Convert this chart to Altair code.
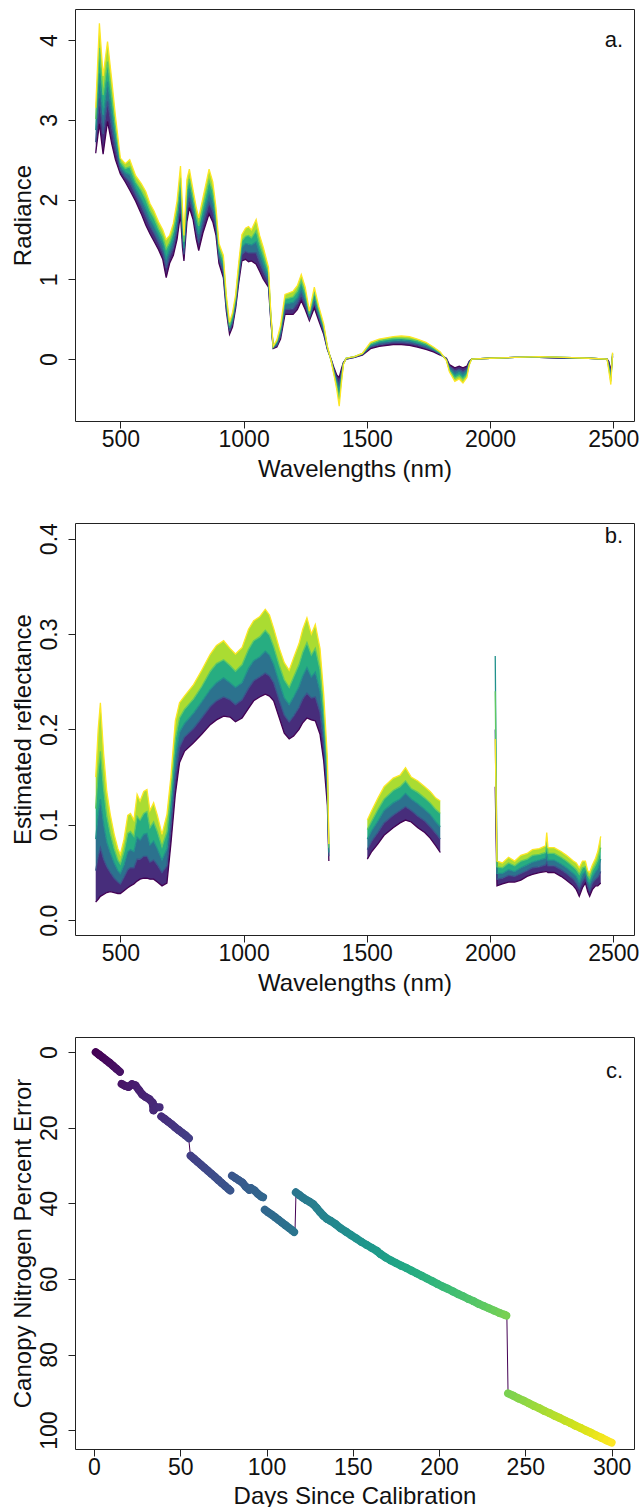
import altair as alt
import pandas as pd

FONT = "Liberation Sans"
LFS = 23   # tick labels
TFS = 24   # axis titles
W, H = 559, 412

# ---------------- panel a: radiance (five curves across the band, purple -> yellow)
WL_A = [
    400, 415, 430, 448, 465, 480, 500, 520, 538, 562,
    585, 603, 620, 636, 655, 672, 686, 700, 715, 730,
    744, 752, 758, 770, 780, 795, 808, 818, 835, 860,
    875, 888, 900, 918, 930, 943, 955, 968, 980, 993,
    1008, 1020, 1032, 1051, 1065, 1080, 1101, 1110, 1120, 1135,
    1150, 1168, 1201, 1218, 1234, 1250, 1267, 1287, 1305, 1325,
    1340, 1355, 1368, 1378, 1388, 1397, 1405, 1416, 1450, 1482,
    1515, 1550, 1607, 1640, 1673, 1705, 1740, 1770, 1798, 1823,
    1835, 1857, 1875, 1890, 1906, 1915, 1925, 2000, 2100, 2200,
    2300, 2400, 2475, 2482, 2490, 2497]
RAD_P0 = [
    2.58, 2.95, 2.57, 2.98, 2.70, 2.50, 2.32, 2.22, 2.12, 1.98,
    1.82, 1.68, 1.57, 1.48, 1.37, 1.25, 1.02, 1.20, 1.30, 1.50,
    1.82, 1.40, 1.23, 1.72, 1.90, 1.75, 1.50, 1.36, 1.58, 1.82,
    1.72, 1.55, 1.20, 1.02, 0.60, 0.31, 0.40, 0.64, 0.95, 1.23,
    1.25, 1.22, 1.23, 1.19, 1.10, 1.00, 0.90, 0.50, 0.13, 0.15,
    0.25, 0.56, 0.56, 0.62, 0.73, 0.62, 0.48, 0.64, 0.48, 0.31,
    0.12, 0.00, -0.12, -0.20, -0.23, -0.12, -0.04, 0.00, 0.02, 0.05,
    0.13, 0.16, 0.18, 0.18, 0.17, 0.15, 0.12, 0.09, 0.05, 0.01,
    -0.07, -0.11, -0.09, -0.11, -0.09, -0.03, 0.00, 0.01, 0.02, 0.02,
    0.01, 0.01, 0.00, -0.03, -0.15, 0.03]
RAD_P1 = [
    2.72, 3.27, 2.82, 3.23, 2.90, 2.64, 2.37, 2.28, 2.22, 2.06,
    1.92, 1.79, 1.67, 1.58, 1.46, 1.34, 1.14, 1.29, 1.40, 1.62,
    1.97, 1.52, 1.31, 1.85, 2.02, 1.84, 1.60, 1.46, 1.69, 1.96,
    1.85, 1.64, 1.26, 1.09, 0.65, 0.35, 0.45, 0.68, 1.01, 1.31,
    1.35, 1.33, 1.33, 1.33, 1.21, 1.10, 0.96, 0.53, 0.14, 0.17,
    0.29, 0.62, 0.63, 0.70, 0.81, 0.69, 0.51, 0.71, 0.53, 0.34,
    0.13, -0.01, -0.15, -0.25, -0.32, -0.17, -0.05, 0.00, 0.02, 0.06,
    0.15, 0.18, 0.21, 0.21, 0.20, 0.18, 0.14, 0.11, 0.06, 0.00,
    -0.09, -0.15, -0.13, -0.16, -0.13, -0.04, 0.00, 0.01, 0.02, 0.02,
    0.01, 0.01, 0.00, -0.06, -0.19, 0.04]
RAD_P2 = [
    2.87, 3.58, 3.06, 3.48, 3.10, 2.78, 2.42, 2.34, 2.31, 2.14,
    2.01, 1.89, 1.76, 1.67, 1.55, 1.44, 1.26, 1.38, 1.50, 1.74,
    2.12, 1.65, 1.39, 1.99, 2.14, 1.94, 1.70, 1.57, 1.80, 2.10,
    1.97, 1.73, 1.33, 1.16, 0.70, 0.39, 0.49, 0.73, 1.08, 1.40,
    1.45, 1.44, 1.43, 1.47, 1.33, 1.20, 1.03, 0.55, 0.15, 0.20,
    0.34, 0.69, 0.71, 0.77, 0.90, 0.76, 0.54, 0.77, 0.57, 0.38,
    0.14, -0.01, -0.17, -0.29, -0.41, -0.21, -0.06, 0.01, 0.03, 0.06,
    0.17, 0.21, 0.23, 0.24, 0.23, 0.20, 0.17, 0.12, 0.07, -0.01,
    -0.12, -0.20, -0.17, -0.21, -0.16, -0.06, 0.00, 0.01, 0.02, 0.03,
    0.02, 0.01, 0.00, -0.09, -0.24, 0.06]
RAD_P3 = [
    3.01, 3.90, 3.31, 3.73, 3.30, 2.91, 2.47, 2.39, 2.41, 2.22,
    2.11, 2.00, 1.86, 1.77, 1.63, 1.53, 1.38, 1.46, 1.60, 1.86,
    2.27, 1.77, 1.47, 2.12, 2.26, 2.03, 1.80, 1.67, 1.91, 2.24,
    2.10, 1.81, 1.39, 1.23, 0.75, 0.42, 0.54, 0.77, 1.14, 1.48,
    1.54, 1.55, 1.52, 1.61, 1.44, 1.30, 1.09, 0.58, 0.15, 0.22,
    0.38, 0.75, 0.78, 0.85, 0.98, 0.83, 0.57, 0.84, 0.62, 0.41,
    0.15, -0.02, -0.20, -0.34, -0.50, -0.26, -0.06, 0.01, 0.03, 0.07,
    0.19, 0.23, 0.26, 0.26, 0.25, 0.23, 0.19, 0.14, 0.08, -0.01,
    -0.14, -0.24, -0.21, -0.25, -0.20, -0.07, 0.00, 0.01, 0.02, 0.03,
    0.02, 0.01, 0.00, -0.12, -0.28, 0.07]
RAD_P4 = [
    3.15, 4.21, 3.55, 3.98, 3.50, 3.05, 2.52, 2.45, 2.50, 2.30,
    2.20, 2.10, 1.95, 1.86, 1.72, 1.62, 1.50, 1.55, 1.70, 1.98,
    2.42, 1.90, 1.55, 2.25, 2.38, 2.12, 1.90, 1.77, 2.02, 2.38,
    2.22, 1.90, 1.45, 1.30, 0.80, 0.46, 0.58, 0.81, 1.20, 1.56,
    1.64, 1.66, 1.62, 1.75, 1.55, 1.40, 1.15, 0.60, 0.16, 0.24,
    0.42, 0.81, 0.85, 0.92, 1.06, 0.90, 0.60, 0.90, 0.66, 0.44,
    0.16, -0.02, -0.22, -0.38, -0.59, -0.30, -0.07, 0.01, 0.03, 0.07,
    0.21, 0.25, 0.28, 0.29, 0.28, 0.25, 0.21, 0.15, 0.09, -0.02,
    -0.16, -0.28, -0.25, -0.30, -0.23, -0.08, 0.00, 0.01, 0.02, 0.03,
    0.02, 0.01, 0.00, -0.15, -0.32, 0.08]

# ---------------- panel b: estimated reflectance (three wavelength segments)
WL_B = [
    400, 410, 419, 432, 445, 459, 475, 490, 500, 515,
    530, 541, 555, 568, 580, 595, 608, 620, 635, 650,
    669, 689, 705, 723, 740, 760, 797, 830, 865, 890,
    919, 945, 967, 994, 1020, 1041, 1065, 1088, 1105, 1122,
    1145, 1165, 1185, 1203, 1225, 1240, 1257, 1275, 1291, 1310,
    1325, 1340, 1346,
    1502, 1520, 1545, 1570, 1607, 1635, 1657, 1680, 1707, 1735, 1757, 1780, 1798,
    2021, 2028, 2050, 2075, 2100, 2125, 2150, 2172, 2200, 2225,
    2230, 2235, 2260, 2288, 2310, 2338, 2350, 2362, 2375, 2387,
    2396, 2404, 2415, 2428, 2437, 2449]
SEG_B = [1] * 53 + [2] * 13 + [3] * 26
REF_P0 = [
    .019, .022, .025, .027, .029, .030, .029, .028, .028, .031,
    .034, .036, .038, .041, .043, .044, .044, .043, .043, .040,
    .036, .039, .080, .132, .165, .177, .186, .195, .205, .210,
    .214, .213, .208, .212, .222, .230, .234, .237, .235, .230,
    .212, .196, .190, .193, .200, .207, .212, .210, .209, .195,
    .167, .120, .062,
    .064, .072, .080, .089, .097, .102, .105, .103, .097, .092, .086, .078, .071,
    .140, .036, .038, .040, .040, .042, .046, .048, .050, .051,
    .051, .050, .050, .046, .042, .036, .032, .025, .034, .039,
    .030, .025, .032, .036, .036, .039]
REF_P1 = [
    .052, .067, .076, .064, .056, .050, .044, .040, .038, .045,
    .053, .055, .055, .064, .064, .067, .067, .061, .063, .058,
    .050, .057, .098, .151, .181, .192, .201, .212, .224, .230,
    .234, .231, .226, .231, .243, .251, .255, .259, .256, .249,
    .230, .215, .208, .214, .223, .232, .238, .233, .234, .218,
    .185, .133, .067,
    .074, .083, .092, .102, .110, .115, .119, .115, .109, .104, .098, .091, .085,
    .200, .043, .044, .047, .046, .049, .052, .055, .056, .058,
    .061, .057, .057, .053, .049, .043, .039, .033, .041, .045,
    .036, .031, .039, .043, .045, .051]
REF_P2 = [
    .085, .111, .127, .101, .082, .071, .060, .052, .049, .058,
    .072, .074, .072, .087, .084, .090, .091, .079, .083, .075,
    .063, .075, .115, .171, .197, .206, .217, .229, .242, .249,
    .254, .249, .244, .249, .264, .272, .276, .282, .278, .268,
    .249, .233, .226, .234, .245, .256, .265, .255, .260, .240,
    .202, .145, .071,
    .085, .094, .104, .115, .123, .127, .133, .127, .122, .116, .111, .103, .098,
    .277, .049, .049, .053, .051, .055, .058, .061, .063, .065,
    .072, .063, .063, .059, .055, .049, .046, .040, .048, .051,
    .041, .038, .045, .051, .054, .064]
REF_P3 = [
    .117, .156, .177, .138, .109, .091, .075, .063, .059, .072,
    .091, .093, .088, .109, .105, .112, .114, .097, .103, .093,
    .077, .093, .133, .190, .212, .221, .232, .245, .261, .269,
    .273, .267, .261, .268, .284, .293, .297, .304, .299, .287,
    .267, .252, .244, .255, .268, .281, .291, .278, .285, .263,
    .220, .158, .076,
    .095, .104, .116, .127, .136, .140, .146, .138, .134, .128, .123, .116, .112,
    .240, .056, .055, .060, .057, .062, .064, .068, .069, .071,
    .082, .070, .070, .066, .062, .056, .053, .048, .055, .056,
    .047, .044, .052, .058, .063, .076]
REF_P4 = [
    .150, .200, .228, .175, .135, .111, .090, .075, .069, .085,
    .110, .112, .105, .132, .125, .135, .137, .115, .123, .110,
    .090, .111, .150, .209, .228, .235, .247, .262, .279, .288,
    .293, .285, .279, .286, .305, .314, .318, .326, .320, .306,
    .285, .270, .262, .275, .290, .305, .317, .300, .310, .285,
    .237, .170, .080,
    .105, .115, .128, .140, .149, .152, .160, .150, .146, .140, .135, .128, .125,
    .190, .062, .060, .066, .062, .068, .070, .074, .075, .078,
    .092, .076, .076, .072, .068, .062, .060, .055, .062, .062,
    .052, .050, .058, .065, .072, .088]

# ---------------- panel c: canopy nitrogen percent error
DAYS_C = [
    1, 3, 5, 7, 9, 11, 13, 15,
    16, 18, 20, 22, 24, 26, 28, 30, 32, 34, 34.5, 35, 36, 38,
    39, 41, 43, 45, 47, 49, 51, 53, 55,
    56, 58, 60, 62, 64, 66, 68, 70, 72, 74, 76, 78, 79,
    80, 82, 84, 86, 88, 90, 91, 93, 95, 97, 98,
    99, 101, 103, 105, 107, 109, 111, 113, 115, 116,
    117, 119, 121, 123, 125, 127, 129, 131, 133, 135, 137, 140, 143, 146, 149,
    152, 155, 158, 161, 164, 166, 169, 172, 175, 178, 181, 184, 187, 190, 193,
    196, 199, 202, 205, 208, 211, 214, 217, 220, 223, 226, 229, 232, 235, 238, 239,
    240, 243, 246, 249, 252, 255, 258, 261, 264, 267, 270, 273, 276, 279, 282,
    285, 288, 291, 294, 297, 300]
ERR_C = [
    0.0, 0.7, 1.4, 2.1, 2.8, 3.6, 4.4, 5.2,
    8.4, 8.9, 9.2, 8.5, 8.8, 10.0, 11.2, 11.9, 12.4, 13.4, 15.4, 15.0, 14.6, 14.6,
    17.0, 17.7, 18.4, 19.1, 19.9, 20.6, 21.3, 22.0, 22.8,
    27.4, 28.2, 29.0, 29.8, 30.6, 31.4, 32.2, 33.0, 33.8, 34.6, 35.4, 36.2, 36.6,
    32.7, 33.3, 33.9, 34.5, 35.6, 36.4, 36.0, 36.6, 37.5, 38.2, 38.4,
    41.7, 42.4, 43.0, 43.7, 44.4, 45.1, 45.8, 46.5, 47.2, 47.6,
    37.1, 37.8, 38.5, 39.1, 39.6, 40.2, 41.2, 42.3, 43.3, 44.1, 44.6, 45.5, 46.6, 47.5, 48.4,
    49.3, 50.2, 51.0, 51.8, 52.6, 53.4, 54.3, 55.1, 55.8, 56.5, 57.1, 57.8, 58.5, 59.2, 59.9,
    60.6, 61.3, 62.0, 62.6, 63.3, 64.0, 64.6, 65.3, 65.9, 66.6, 67.2, 67.8, 68.4, 69.0, 69.5, 69.7,
    90.3, 90.9, 91.6, 92.2, 92.9, 93.6, 94.2, 94.9, 95.5, 96.2, 96.8, 97.5, 98.1, 98.8, 99.4,
    100.1, 100.7, 101.4, 102.0, 102.7, 103.3]
SEG_C = [1] * 8 + [2] * 14 + [3] * 9 + [4] * 13 + [5] * 11 + [6] * 10 + [7] * 46 + [8] * 21
JUMP_D0 = [54.9, 116.5, 239.3]
JUMP_D1 = [55.9, 117.1, 240.0]
JUMP_E0 = [22.8, 47.7, 69.7]
JUMP_E1 = [27.4, 37.1, 90.3]

LINE_IDS = ["s0", "s1", "s2", "s3", "s4"]
LINE_COLORS = ["#440154", "#3b528b", "#21918c", "#5ec962", "#fde725"]
BAND_IDS = ["b0", "b1", "b2", "b3"]
BAND_COLORS = ["#472d7b", "#2c728e", "#27ad81", "#aadc32"]


def x_axis(title, values, title_y=55):
    return alt.Axis(values=values, title=title, format="d", titleX=W / 2, titleY=title_y,
                    titleAlign="center", titleBaseline="alphabetic",
                    labelPadding=0.6, labelFlush=False)


def y_axis(title, values, fmt="d"):
    return alt.Axis(values=values, title=title, format=fmt, labelAngle=270, labelAlign="center",
                    labelBaseline="bottom", labelPadding=6.9, labelFlush=False,
                    titleAngle=270, titleX=-39.6, titleY=H / 2, titleAlign="center",
                    titleBaseline="bottom")


def tag_layer(tag, ty):
    return alt.Chart(pd.DataFrame({"t": [tag]})).mark_text(
        font=FONT, fontSize=22, align="right", baseline="alphabetic", color="#111"
    ).encode(x=alt.value(548), y=alt.value(ty), text="t:N")


def spectral(wl, seg, series, ydom, yvals, yfmt, ytitle, tag, ty):
    lines = []
    for k, s in enumerate(series):
        for w, g, v in zip(wl, seg, s):
            lines.append({"wl": w, "seg": g, "series": LINE_IDS[k], "v": v})
    bands = []
    for k in range(4):
        for w, g, lo, hi in zip(wl, seg, series[k], series[k + 1]):
            bands.append({"wl": w, "seg": g, "band": BAND_IDS[k], "lo": lo, "hi": hi})
    xs = alt.Scale(domain=[316, 2584], nice=False, zero=False)
    ys = alt.Scale(domain=ydom, nice=False, zero=False)
    xax = x_axis("Wavelengths (nm)", [500, 1000, 1500, 2000, 2500])
    yax = y_axis(ytitle, yvals, yfmt)
    band_ch = alt.Chart(pd.DataFrame(bands)).mark_area(opacity=1).encode(
        x=alt.X("wl:Q", scale=xs, axis=xax),
        y=alt.Y("lo:Q", scale=ys, axis=yax),
        y2="hi:Q",
        color=alt.Color("band:N", scale=alt.Scale(domain=BAND_IDS, range=BAND_COLORS), legend=None),
        detail="seg:N",
    )
    line_ch = alt.Chart(pd.DataFrame(lines)).mark_line(strokeWidth=1.3).encode(
        x=alt.X("wl:Q", scale=xs, axis=xax),
        y=alt.Y("v:Q", scale=ys, axis=yax),
        color=alt.Color("series:N", scale=alt.Scale(domain=LINE_IDS, range=LINE_COLORS), legend=None),
        detail="seg:N",
    )
    return alt.layer(band_ch, line_ch, tag_layer(tag, ty)).resolve_scale(
        color="independent").properties(width=W, height=H)


seg_a = [1] * len(WL_A)
panel_a = spectral(WL_A, seg_a, [RAD_P0, RAD_P1, RAD_P2, RAD_P3, RAD_P4],
                   [-0.777, 4.389], [0, 1, 2, 3, 4], "d", "Radiance", "a.", 38)
panel_b = spectral(WL_B, SEG_B, [REF_P0, REF_P1, REF_P2, REF_P3, REF_P4],
                   [-0.0155, 0.4164], [0.0, 0.1, 0.2, 0.3, 0.4], ".1f",
                   "Estimated reflectance", "b.", 20)

# consecutive point pairs inside each run of the error series
pair_rows = []
for i in range(len(DAYS_C) - 1):
    if SEG_C[i] == SEG_C[i + 1]:
        pair_rows.append({"d0": DAYS_C[i], "d1": DAYS_C[i + 1], "e0": ERR_C[i],
                          "e1": ERR_C[i + 1], "day": DAYS_C[i]})

xs_c = alt.Scale(domain=[-11, 313], nice=False, zero=False)
ys_c = alt.Scale(domain=[-4, 105], reverse=True, nice=False, zero=False)
xax_c = x_axis("Days Since Calibration", [0, 50, 100, 150, 200, 250, 300], title_y=54)
yax_c = y_axis("Canopy Nitrogen Percent Error", [0, 20, 40, 60, 80, 100])
vir = alt.Scale(scheme="viridis", domain=[1, 300])

jumps = alt.Chart(pd.DataFrame({"d0": JUMP_D0, "d1": JUMP_D1, "e0": JUMP_E0, "e1": JUMP_E1})).mark_rule(
    color="#440154", strokeWidth=1).encode(
    x=alt.X("d0:Q", scale=xs_c, axis=xax_c), x2="d1:Q",
    y=alt.Y("e0:Q", scale=ys_c, axis=yax_c), y2="e1:Q")
thick = alt.Chart(pd.DataFrame(pair_rows)).mark_rule(strokeWidth=8, strokeCap="round").encode(
    x=alt.X("d0:Q", scale=xs_c, axis=xax_c), x2="d1:Q",
    y=alt.Y("e0:Q", scale=ys_c, axis=yax_c), y2="e1:Q",
    color=alt.Color("day:Q", scale=vir, legend=None))
pts = alt.Chart(pd.DataFrame({"day": DAYS_C, "err": ERR_C})).mark_circle(size=52, opacity=1).encode(
    x=alt.X("day:Q", scale=xs_c, axis=xax_c),
    y=alt.Y("err:Q", scale=ys_c, axis=yax_c),
    color=alt.Color("day:Q", scale=vir, legend=None),
)
panel_c = alt.layer(jumps, thick, pts, tag_layer("c.", 41)).properties(width=W, height=H)

chart = alt.vconcat(panel_a, panel_b, panel_c, spacing=102, bounds="flush").properties(
    padding={"left": 10, "top": 8, "right": 0, "bottom": 0}
).configure_view(stroke="#222", strokeWidth=1).configure_axis(
    labelFont=FONT, labelFontSize=LFS, labelColor="#111",
    titleFont=FONT, titleFontSize=TFS, titleFontWeight="normal", titleColor="#111",
    tickColor="#222", tickSize=7, tickWidth=1, domain=False, grid=False,
    labelOverlap=False,
)

chart.save("out.html", embed_options={"renderer": "svg", "actions": False})
